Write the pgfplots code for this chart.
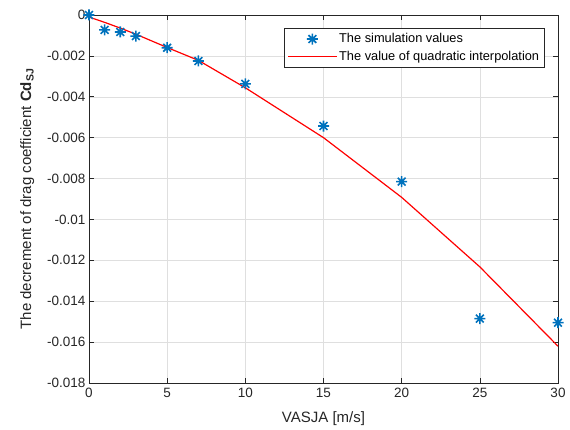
\documentclass[border=0pt]{standalone}
\usepackage{pgfplots}
\pgfplotsset{compat=1.18}
\usepackage{fontspec}
\setmainfont{Liberation Sans}
\usetikzlibrary{calc}
\definecolor{mblue}{rgb}{0,0.447,0.741}
\definecolor{axgray}{rgb}{0.15,0.15,0.15}
\pgfdeclareplotmark{mstar}{%
  \pgfpathmoveto{\pgfqpoint{0pt}{\pgfplotmarksize}}\pgfpathlineto{\pgfqpoint{0pt}{-\pgfplotmarksize}}%
  \pgfpathmoveto{\pgfqpoint{\pgfplotmarksize}{0pt}}\pgfpathlineto{\pgfqpoint{-\pgfplotmarksize}{0pt}}%
  \pgfpathmoveto{\pgfqpoint{0.707\pgfplotmarksize}{0.707\pgfplotmarksize}}\pgfpathlineto{\pgfqpoint{-0.707\pgfplotmarksize}{-0.707\pgfplotmarksize}}%
  \pgfpathmoveto{\pgfqpoint{0.707\pgfplotmarksize}{-0.707\pgfplotmarksize}}\pgfpathlineto{\pgfqpoint{-0.707\pgfplotmarksize}{0.707\pgfplotmarksize}}%
  \pgfusepathqstroke}
\begin{document}
\begin{tikzpicture}
\begin{axis}[
  name=ax,
  scale only axis,
  width=469pt, height=368pt,
  xmin=0, xmax=30, ymin=-0.018, ymax=0,
  xtick={0,5,...,30},
  ytick={-0.018,-0.016,-0.014,-0.012,-0.01,-0.008,-0.006,-0.004,-0.002,0},
  yticklabels={-0.018,-0.016,-0.014,-0.012,-0.01,-0.008,-0.006,-0.004,-0.002,0},
  scaled y ticks=false,
  /pgf/number format/assume math mode=true,
  tick label style={font=\fontsize{13.5}{15}\selectfont, text=axgray},
  label style={font=\fontsize{15}{17}\selectfont, text=axgray},
  xticklabel style={yshift=-2pt},
  xlabel={VASJA [m/s]},
  ylabel={The decrement of drag coefficient \textbf{Cd}\textsubscript{\textbf{SJ}}},
  xlabel style={yshift=-7pt},
  ylabel style={yshift=6pt},
  axis line style={axgray, line width=0.6pt},
  tick style={axgray, line width=0.6pt},
  tick align=inside,
  major tick length=5pt,
  grid=major,
  grid style={gray!25, line width=0.5pt},
  legend style={at={(0.972,0.965)}, anchor=north east, draw=axgray, line width=0.5pt,
    font=\fontsize{12.8}{15}\selectfont, inner sep=3.5pt, row sep=3pt,
    legend cell align=left},
]
\addplot[only marks, mark=mstar, mark size=5.5pt, mblue, line width=1.6pt,
  legend image code/.code={\draw[mblue, line width=1.6pt] plot[mark=mstar, mark size=5.5pt] coordinates {(0.85cm,0cm)};}]
  coordinates {
  (0,0) (1,-0.00073) (2,-0.00083) (3,-0.00103) (5,-0.0016) (7,-0.00225)
  (10,-0.00337) (15,-0.00543) (20,-0.00815) (25,-0.01485) (30,-0.01505)
};
\addlegendentry{The simulation values}
\addplot[red, line width=1.2pt,
  legend image code/.code={\draw[red, line width=1.2pt] (0cm,0cm) -- (1.7cm,0cm);}]
  coordinates {
  (0,-0.0001) (1,-0.00036) (2,-0.00064) (3,-0.00094) (5,-0.00159) (7,-0.00222)
  (10,-0.00356) (15,-0.006) (20,-0.00892) (25,-0.01232) (30,-0.0162)
};
\addlegendentry{The value of quadratic interpolation}
\end{axis}
\pgfresetboundingbox
\useasboundingbox ($(ax.south west)+(-89pt,-47pt)$) rectangle ($(ax.north east)+(12pt,15pt)$);
\end{tikzpicture}
\end{document}
